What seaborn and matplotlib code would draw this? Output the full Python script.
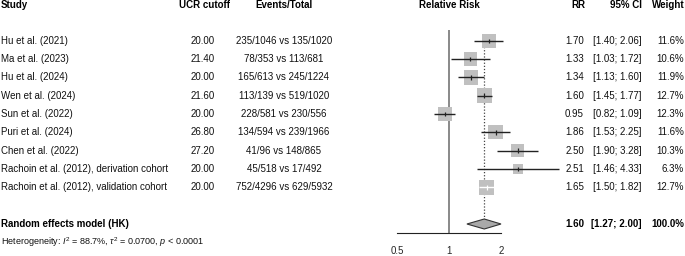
import numpy as np
import pandas as pd
import seaborn as sns
import matplotlib.pyplot as plt

studies = ['Hu et al. (2021)', 'Ma et al. (2023)', 'Hu et al. (2024)', 'Wen et al. (2024)',
           'Sun et al. (2022)', 'Puri et al. (2024)', 'Chen et al. (2022)',
           'Rachoin et al. (2012), derivation cohort', 'Rachoin et al. (2012), validation cohort']
ucr_cutoff = ['20.00', '21.40', '20.00', '21.60', '20.00', '26.80', '27.20', '20.00', '20.00']
events = ['235/1046 vs 135/1020', '78/353 vs 113/681', '165/613 vs 245/1224', '113/139 vs 519/1020',
          '228/581 vs 230/556', '134/594 vs 239/1966', '41/96 vs 148/865', '45/518 vs 17/492',
          '752/4296 vs 629/5932']
rr = [1.70, 1.33, 1.34, 1.60, 0.95, 1.86, 2.50, 2.51, 1.65]
ci_low = [1.40, 1.03, 1.13, 1.45, 0.82, 1.53, 1.90, 1.46, 1.50]
ci_high = [2.06, 1.72, 1.60, 1.77, 1.09, 2.25, 3.28, 4.33, 1.82]
weights = [11.6, 10.6, 11.9, 12.7, 12.3, 11.6, 10.3, 6.3, 12.7]

pooled_label = 'Random effects model (HK)'
pooled_rr, pooled_low, pooled_high = 1.60, 1.27, 2.00
hetero = r'Heterogeneity: $I^2$ = 88.7%, $\tau^2$ = 0.0700, $p$ < 0.0001'

sns.set_style('white')
plt.rcParams['font.family'] = ['Liberation Sans', 'DejaVu Sans']
plt.rcParams['mathtext.fontset'] = 'custom'
plt.rcParams['mathtext.rm'] = 'Liberation Sans'
plt.rcParams['mathtext.it'] = 'Liberation Sans:italic'

W, H = 685, 256
fig = plt.figure(figsize=(W / 100, H / 100), dpi=100)

# text layer in pixel coordinates
tax = fig.add_axes([0, 0, 1, 1])
tax.set_xlim(0, W)
tax.set_ylim(H, 0)
tax.axis('off')

# forest panel, log2 scale from 0.5 to 2
x_left, x_right, y_axis = 397, 501, 233
fax = fig.add_axes([x_left / W, (H - y_axis) / H, (x_right - x_left) / W, y_axis / H])
fax.set_xscale('log', base=2)
fax.set_xlim(0.5, 2)
fax.set_ylim(y_axis, 0)
fax.patch.set_alpha(0)
for s in ['top', 'left', 'right']:
    fax.spines[s].set_visible(False)
fax.spines['bottom'].set_linewidth(0.8)
fax.spines['bottom'].set_color('#222222')
fax.set_xticks([0.5, 1, 2])
fax.set_xticklabels(['0.5', '1', '2'])
fax.minorticks_off()
fax.set_yticks([])
fax.tick_params(axis='x', direction='in', length=4.5, width=0.8, color='#222222',
                labelsize=7, pad=9)

step = 18.33
y0 = 40.7
rows = y0 + step * np.arange(len(studies))
y_pooled = y0 + step * 10
y_het = y0 + step * 11
y_head = y0 - step * 2 + 0.6

df = pd.DataFrame({'rr': rr, 'lo': ci_low, 'hi': ci_high, 'w': weights, 'y': rows})

# reference and pooled lines
fax.vlines(1, 30, y_axis, color='#808080', lw=1.3, zorder=1)
fax.vlines(pooled_rr, 34, y_pooled - 5, color='#444444', lw=0.9, linestyles=(0, (1, 1.5)), zorder=1)

# squares (area proportional to weight)
px_per_log2 = (x_right - x_left) / 2
side_coef = 4.15  # px per sqrt(weight)
k = (side_coef / 1.3889) ** 2
sns.scatterplot(data=df, x='rr', y='y', size='w', sizes=(k * min(weights), k * max(weights)),
                size_norm=(min(weights), max(weights)), marker='s', color='#c0c0c0',
                linewidth=0, legend=False, ax=fax, zorder=2, clip_on=False)

# CI line drawn white when it fits inside its square
side_px = side_coef * np.sqrt(df['w'])
ci_px = (np.log2(df['hi']) - np.log2(df['lo'])) * px_per_log2
line_col = np.where(ci_px < side_px, 'white', '#222222')
fax.hlines(df['y'], df['lo'], df['hi'], colors=line_col, lw=1.0, zorder=3, clip_on=False)
fax.vlines(df['rr'], df['y'] - 2.2, df['y'] + 2.2, colors=line_col, lw=0.9, zorder=3, clip_on=False)

# pooled diamond
fax.fill([pooled_low, pooled_rr, pooled_high, pooled_rr],
         [y_pooled, y_pooled - 5, y_pooled, y_pooled + 5],
         facecolor='#a9a9a9', edgecolor='#333333', lw=0.8, zorder=3, clip_on=False)
fax.set_xlabel('')
fax.set_ylabel('')

fs = 7
bold = dict(fontsize=fs, fontweight='bold', va='center', color='black')
norm = dict(fontsize=fs, va='center', color='#111111')

tax.text(1, y_head, 'Study', ha='left', **bold)
tax.text(205, y_head, 'UCR cutoff', ha='center', **bold)
tax.text(284, y_head, 'Events/Total', ha='center', **bold)
tax.text(449, y_head, 'Relative Risk', ha='center', **bold)
tax.text(585, y_head, 'RR', ha='right', **bold)
tax.text(642, y_head, '95% CI', ha='right', **bold)
tax.text(685, y_head, 'Weight', ha='right', **bold)

for i, y in enumerate(rows):
    tax.text(1, y, studies[i], ha='left', **norm)
    tax.text(215, y, ucr_cutoff[i], ha='right', **norm)
    tax.text(284, y, events[i], ha='center', **norm)
    tax.text(584, y, f'{rr[i]:.2f}', ha='right', **norm)
    tax.text(642, y, f'[{ci_low[i]:.2f}; {ci_high[i]:.2f}]', ha='right', **norm)
    tax.text(684, y, f'{weights[i]:.1f}%', ha='right', **norm)

tax.text(1, y_pooled, pooled_label, ha='left', **bold)
tax.text(584, y_pooled, f'{pooled_rr:.2f}', ha='right', **bold)
tax.text(642, y_pooled, f'[{pooled_low:.2f}; {pooled_high:.2f}]', ha='right', **bold)
tax.text(684, y_pooled, '100.0%', ha='right', **bold)
tax.text(1, y_het, hetero, ha='left', fontsize=6.5, va='center', color='#111111')

fig.savefig('out.png', dpi=100)
